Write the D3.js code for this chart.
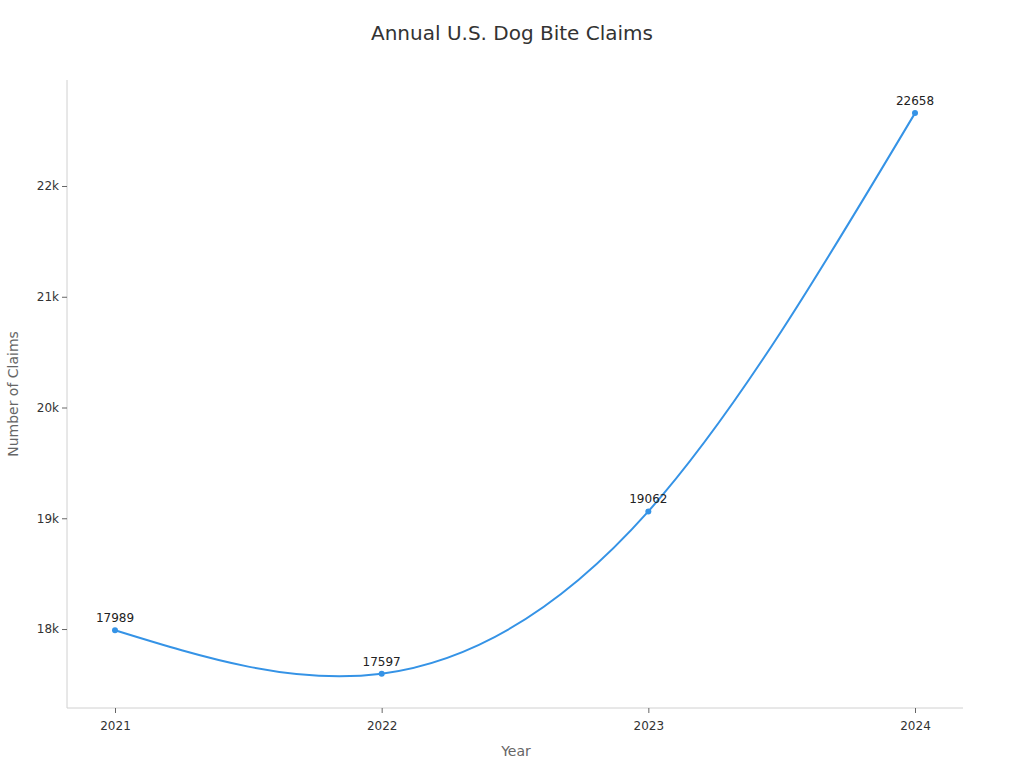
<!DOCTYPE html>
<html><head><meta charset="utf-8">
<script src="https://cdn.jsdelivr.net/npm/d3@7"></script>
<style>body{margin:0;background:#fff;font-family:"DejaVu Sans",sans-serif}</style>
</head><body><svg id="c" width="1024" height="768"></svg>
<script>
const years = ["2021","2022","2023","2024"];
const claims = [17989,17597,19062,22658];
const yTicks = [18000,19000,20000,21000,22000];
const svg = d3.select("#c");
const L=67,R=963,T=80,B=708;
const x = d3.scalePoint().domain(years).range([L,R]).padding(0.18);
const y = d3.scaleLinear().domain([17287,22957]).range([B,T]);
const col="#3593e6", axc="#d0d0d0";
svg.append("text").attr("x",512).attr("y",40).attr("text-anchor","middle").attr("font-size",20).attr("fill","#333").text("Annual U.S. Dog Bite Claims");
const ya = svg.append("g").attr("transform",`translate(${L},0)`).call(d3.axisLeft(y).tickValues(yTicks).tickFormat(d=>d/1000+"k").tickSize(5).tickSizeOuter(0));
const xa = svg.append("g").attr("transform",`translate(0,${B})`).call(d3.axisBottom(x).tickSize(5).tickSizeOuter(0));
[ya,xa].forEach(a=>{a.select(".domain").attr("stroke",axc);a.selectAll("line").attr("stroke","#666");a.selectAll("text").attr("font-size",12).attr("fill","#333").attr("font-family","DejaVu Sans");});
xa.selectAll("text").attr("dy","1.2em");
ya.select(".domain").attr("d",`M0,${T}V${B}`);
xa.select(".domain").attr("d",`M${L},0H${R}`);
svg.append("text").attr("x",516).attr("y",756).attr("text-anchor","middle").attr("font-size",14).attr("fill","#666").text("Year");
svg.append("text").attr("transform","translate(18,394) rotate(-90)").attr("text-anchor","middle").attr("font-size",14).attr("fill","#666").text("Number of Claims");
const data = years.map((d,i)=>({d,v:claims[i]}));
svg.append("path").datum(data).attr("fill","none").attr("stroke",col).attr("stroke-width",2)
 .attr("d",d3.line().x(p=>x(p.d)).y(p=>y(p.v)).curve(d3.curveNatural));
svg.selectAll("circle").data(data).join("circle").attr("cx",p=>x(p.d)).attr("cy",p=>y(p.v)).attr("r",3).attr("fill",col);
svg.selectAll(".lab").data(data).join("text").attr("x",p=>x(p.d)).attr("y",p=>y(p.v)-8).attr("text-anchor","middle").attr("font-size",12).attr("fill","#222").text(p=>p.v);
</script></body></html>
